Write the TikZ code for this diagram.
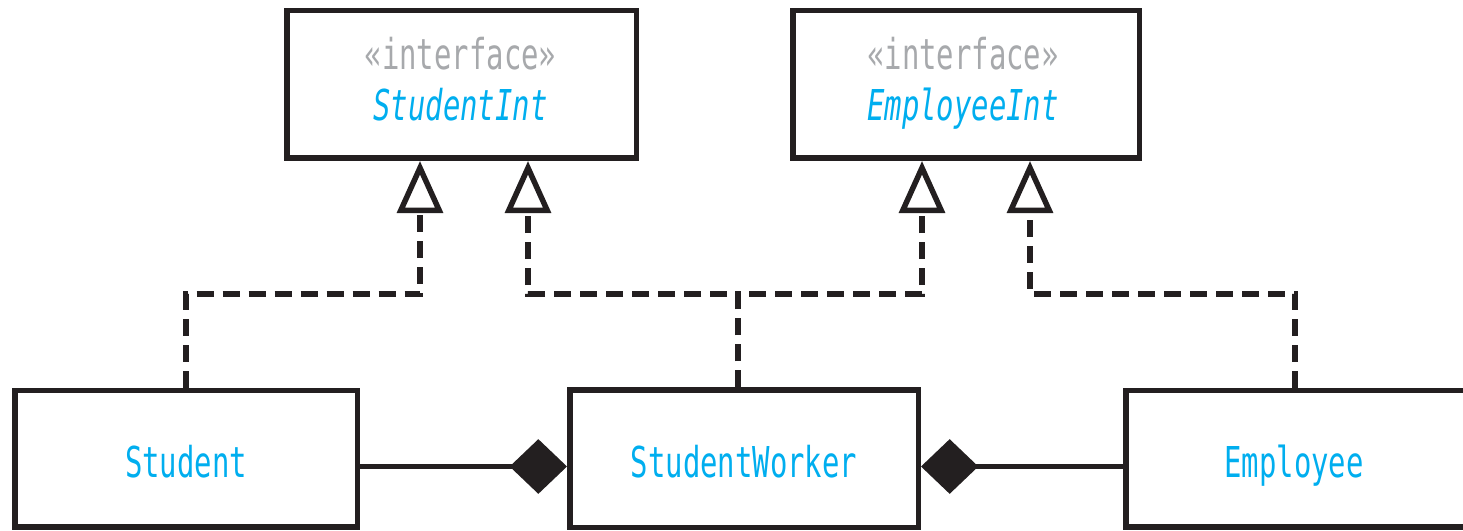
\documentclass[tikz,border=0pt]{standalone}
\usepackage{fontspec}
\newfontfamily\umlfont[FakeStretch=0.68]{DejaVu Sans Mono}
\usetikzlibrary{arrows.meta,calc}
\newdimen\pxu \pxu=0.75pt
\definecolor{umlblue}{HTML}{00AEEF}
\definecolor{umlgray}{HTML}{A7A9AC}
\definecolor{umlline}{HTML}{231F20}
\begin{document}
\begin{tikzpicture}[x=0.75pt,y=-0.75pt,
  lw/.style={line width=5.5\pxu},
  umltext/.style={font={\umlfont\fontsize{31.9pt}{38pt}\selectfont}},
  classbox/.style={draw=umlline, lw, fill=white, inner sep=0pt,
    umltext, text=umlblue, text height=27.75pt, text depth=0pt},
  stereo/.style={umltext, text=umlgray, inner sep=0pt, anchor=base},
  iname/.style={umltext, text=umlblue, inner sep=0pt, anchor=base, font={\umlfont\itshape\fontsize{31.9pt}{38pt}\selectfont}},
  realize/.style={draw=umlline, lw, dash pattern=on 17\pxu off 9\pxu,
    -{Triangle[open, length=39pt, width=34pt, line join=miter]}},
  comp/.style={draw=umlline, lw, -{Diamond[length=43pt, width=41pt]}}
]
\useasboundingbox (0,0) rectangle (1463,531);
\clip (0,0) rectangle (1463,531);

% interfaces
\node[classbox, minimum width=349.5\pxu, minimum height=147.5\pxu] (sint) at (461.5,84.5) {};
\node[stereo] (sint-st) at ($(sint.center)+(-1,-15)$) {«interface»};
\node[iname] (sint-nm) at ($(sint.center)+(-1,36.5)$) {StudentInt};

\node[classbox, minimum width=346.5\pxu, minimum height=147.5\pxu] (eint) at (966,84.5) {};
\node[stereo] (eint-st) at ($(eint.center)+(-3,-15)$) {«interface»};
\node[iname] (eint-nm) at ($(eint.center)+(-3,36.5)$) {EmployeeInt};

% classes
\node[classbox, minimum width=342.5\pxu, minimum height=136.5\pxu] (stu) at (186,458.5) {Student};
\node[classbox, minimum width=348.5\pxu, minimum height=137.5\pxu] (sw) at (744,458.5) {StudentWorker};
\node[classbox, minimum width=342\pxu, minimum height=136.5\pxu] (emp) at (1297,458.5) {\hspace*{-6\pxu}Employee};

% realizations
\draw[realize] (stu.north) |- ($(sint.south)+(-41.5,133)$) -- ($(sint.south)+(-41.5,0)$);
\draw[realize] ($(sw.north)+(-6,0)$) |- ($(sint.south)+(66.5,133)$) -- ($(sint.south)+(66.5,0)$);
\draw[realize] ($(sw.north)+(-6,0)$) |- ($(eint.south)+(-44,133)$) -- ($(eint.south)+(-44,0)$);
\draw[realize] ($(emp.north)+(-2,0)$) |- ($(eint.south)+(64,133)$) -- ($(eint.south)+(64,0)$);

% compositions
\draw[comp] ($(stu.east)+(0,8)$) -- ($(sw.west)+(0,8)$);
\draw[comp] ($(emp.west)+(0,8)$) -- ($(sw.east)+(0,8)$);
\end{tikzpicture}
\end{document}
